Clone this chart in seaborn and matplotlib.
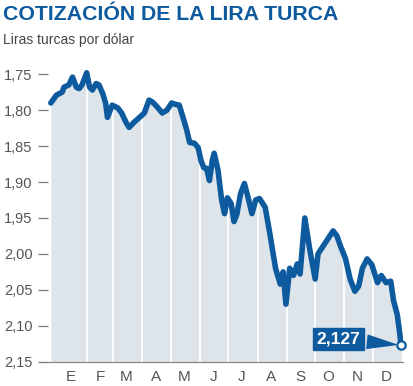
import numpy as np
import pandas as pd
import seaborn as sns
import matplotlib.pyplot as plt
import matplotlib.dates as mdates

# Data (Turkish lira per US dollar, 2013)
dates = ["2012-12-25", "2012-12-31", "2013-01-03", "2013-01-06", "2013-01-08",
         "2013-01-13", "2013-01-17", "2013-01-21", "2013-01-24", "2013-01-27",
         "2013-02-01", "2013-02-04", "2013-02-07", "2013-02-11", "2013-02-14",
         "2013-02-18", "2013-02-21", "2013-02-23", "2013-02-28", "2013-03-06",
         "2013-03-10", "2013-03-15", "2013-03-18", "2013-03-23", "2013-03-29",
         "2013-04-03", "2013-04-08", "2013-04-12", "2013-04-17", "2013-04-22",
         "2013-04-27", "2013-05-02", "2013-05-06", "2013-05-10", "2013-05-14",
         "2013-05-18", "2013-05-21", "2013-05-26", "2013-05-30", "2013-06-02",
         "2013-06-05", "2013-06-08", "2013-06-11", "2013-06-14", "2013-06-16",
         "2013-06-20", "2013-06-24", "2013-06-27", "2013-06-30", "2013-07-04",
         "2013-07-07", "2013-07-10", "2013-07-14", "2013-07-18", "2013-07-22",
         "2013-07-26", "2013-07-30", "2013-08-03", "2013-08-09", "2013-08-14",
         "2013-08-17", "2013-08-20", "2013-08-25", "2013-08-28", "2013-08-31",
         "2013-09-04", "2013-09-08", "2013-09-12", "2013-09-15", "2013-09-20",
         "2013-09-25", "2013-10-01", "2013-10-04", "2013-10-09", "2013-10-15",
         "2013-10-20", "2013-10-24", "2013-10-28", "2013-11-02", "2013-11-07",
         "2013-11-12", "2013-11-16", "2013-11-20", "2013-11-25", "2013-11-30",
         "2013-12-06", "2013-12-10", "2013-12-15", "2013-12-20", "2013-12-23",
         "2013-12-27", "2013-12-29", "2013-12-31"]
rates = [1.790, 1.779, 1.777, 1.775, 1.768,
         1.765, 1.754, 1.768, 1.770, 1.765,
         1.748, 1.768, 1.772, 1.763, 1.765,
         1.777, 1.790, 1.810, 1.793, 1.797,
         1.804, 1.818, 1.824, 1.817, 1.810,
         1.804, 1.786, 1.789, 1.796, 1.804,
         1.800, 1.790, 1.792, 1.793, 1.810,
         1.828, 1.845, 1.846, 1.852, 1.870,
         1.880, 1.881, 1.898, 1.870, 1.860,
         1.883, 1.926, 1.944, 1.922, 1.930,
         1.955, 1.945, 1.916, 1.902, 1.922,
         1.944, 1.925, 1.923, 1.935, 1.972,
         1.996, 2.020, 2.042, 2.025, 2.070,
         2.020, 2.030, 2.014, 2.028, 1.950,
         1.992, 2.035, 2.000, 1.990, 1.978,
         1.968, 1.975, 1.990, 2.006, 2.035,
         2.052, 2.045, 2.020, 2.007, 2.015,
         2.040, 2.030, 2.040, 2.038, 2.065,
         2.085, 2.105, 2.127]

month_labels = ["E", "F", "M", "A", "M", "J", "J", "A", "S", "O", "N", "D"]
y_ticks = [1.75, 1.80, 1.85, 1.90, 1.95, 2.00, 2.05, 2.10, 2.15]
last_label = "2,127"

blue = "#0d5a9e"
fill_col = "#dde4ea"
grey = "#555555"

df = pd.DataFrame({"fecha": pd.to_datetime(dates), "tasa": rates})

sns.set_style("white")
plt.rcParams["font.family"] = ["Liberation Sans", "DejaVu Sans"]

fig = plt.figure(figsize=(4.14, 3.86), dpi=100)
ax = fig.add_axes([48 / 414, 1 - 361.7 / 386, 355 / 414, 299.7 / 386])

# Filled area under the line (axis is inverted, so fill toward 2.15)
ax.fill_between(df["fecha"], df["tasa"], 2.15, color=fill_col, lw=0, zorder=1)

# White month separators
for m in range(2, 13):
    ax.axvline(pd.Timestamp(2013, m, 1), color="white", lw=1.3, zorder=2)

sns.lineplot(data=df, x="fecha", y="tasa", ax=ax, color=blue, lw=4,
             zorder=3, solid_joinstyle="round", solid_capstyle="round")

# End point marker and label
last = df.iloc[-1]
ax.plot(last["fecha"], last["tasa"], "o", ms=6, mfc="white", mec=blue,
        mew=1.6, zorder=5, clip_on=False)
ax.annotate(last_label, xy=(last["fecha"], last["tasa"]),
            xytext=(-45, 4.5), textcoords="offset points",
            ha="center", va="center", color="white", fontsize=12.5,
            fontweight="bold", zorder=4,
            bbox=dict(boxstyle="square,pad=0.22", fc=blue, ec=blue),
            arrowprops=dict(arrowstyle="wedge,tail_width=0.75,shrink_factor=0.5",
                            fc=blue, ec=blue, shrinkB=4))

ax.set_xlim(pd.Timestamp(2012, 12, 22), pd.Timestamp(2014, 1, 2))
ax.set_ylim(2.15, 1.733)

ax.set_yticks(y_ticks)
ax.set_yticklabels([f"{v:.2f}".replace(".", ",") for v in y_ticks])
mids = [pd.Timestamp(2013, m, 15) for m in range(1, 13)]
ax.set_xticks(mids)
ax.set_xticklabels(month_labels)

ax.tick_params(axis="y", length=7.2, width=0.9, color="#777777", pad=4,
               labelsize=10.5, labelcolor=grey, direction="out", left=True)
ax.tick_params(axis="x", length=0, pad=6, labelsize=11, labelcolor=grey)

for s in ["top", "right", "left"]:
    ax.spines[s].set_visible(False)
ax.spines["bottom"].set_color("#888888")
ax.spines["bottom"].set_linewidth(0.9)
ax.set_xlabel("")
ax.set_ylabel("")
ax.grid(False)

fig.text(3 / 414, 1 - 15 / 386, "COTIZACIÓN DE LA LIRA TURCA", color=blue,
         fontsize=15.3, fontweight="bold", va="center", ha="left")
fig.text(3 / 414, 1 - 40 / 386, "Liras turcas por dólar", color="#444444",
         fontsize=10, va="center", ha="left")

fig.savefig("out.png", dpi=100)
